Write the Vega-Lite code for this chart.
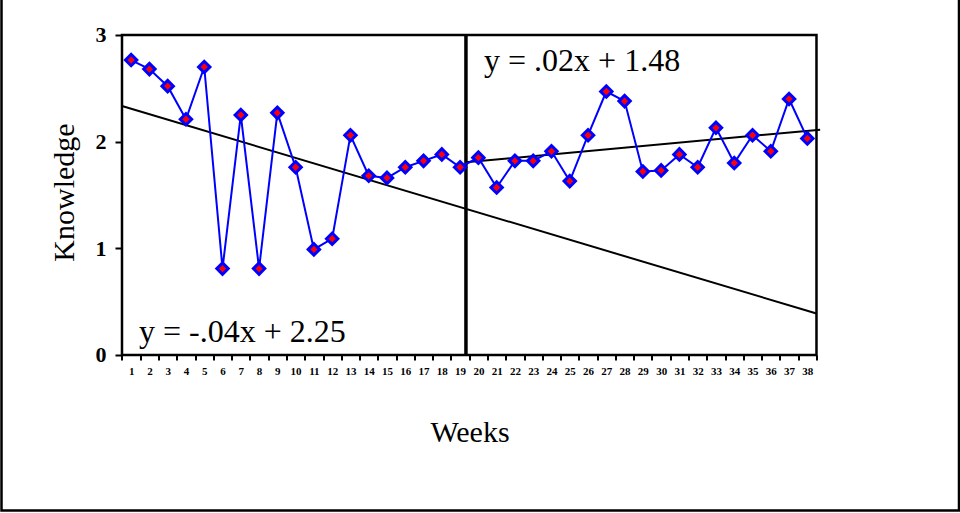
{
  "$schema": "https://vega.github.io/schema/vega-lite/v6.json",
  "autosize": {"type": "none"},
  "padding": {"left": 1.5, "top": -3, "right": 1, "bottom": 2.5},
  "width": 957.5,
  "height": 513.5,
  "background": "white",
  "config": {
    "view": {"stroke": "black", "strokeWidth": 2.5},
    "axis": {"grid": false, "labelFont": "Liberation Serif", "titleFont": "Liberation Serif", "labelColor": "black", "titleColor": "black", "tickColor": "black"}
  },
  "datasets": {
    "weeks": [
      {"week": 1, "knowledge": 2.765}, {"week": 2, "knowledge": 2.68}, {"week": 3, "knowledge": 2.52},
      {"week": 4, "knowledge": 2.21}, {"week": 5, "knowledge": 2.70}, {"week": 6, "knowledge": 0.81},
      {"week": 7, "knowledge": 2.25}, {"week": 8, "knowledge": 0.81}, {"week": 9, "knowledge": 2.27},
      {"week": 10, "knowledge": 1.76}, {"week": 11, "knowledge": 0.99}, {"week": 12, "knowledge": 1.09},
      {"week": 13, "knowledge": 2.06}, {"week": 14, "knowledge": 1.68}, {"week": 15, "knowledge": 1.66},
      {"week": 16, "knowledge": 1.76}, {"week": 17, "knowledge": 1.82}, {"week": 18, "knowledge": 1.88},
      {"week": 19, "knowledge": 1.76}, {"week": 20, "knowledge": 1.85}, {"week": 21, "knowledge": 1.57},
      {"week": 22, "knowledge": 1.82}, {"week": 23, "knowledge": 1.82}, {"week": 24, "knowledge": 1.91},
      {"week": 25, "knowledge": 1.63}, {"week": 26, "knowledge": 2.06}, {"week": 27, "knowledge": 2.47},
      {"week": 28, "knowledge": 2.38}, {"week": 29, "knowledge": 1.72}, {"week": 30, "knowledge": 1.73},
      {"week": 31, "knowledge": 1.88}, {"week": 32, "knowledge": 1.76}, {"week": 33, "knowledge": 2.13},
      {"week": 34, "knowledge": 1.80}, {"week": 35, "knowledge": 2.06}, {"week": 36, "knowledge": 1.91},
      {"week": 37, "knowledge": 2.40}, {"week": 38, "knowledge": 2.03}
    ],
    "trend": [
      {"seg": "A", "week": 0.5, "knowledge": 2.334},
      {"seg": "A", "week": 38.5, "knowledge": 0.389},
      {"seg": "B", "week": 19.32, "knowledge": 1.806},
      {"seg": "B", "week": 38.7, "knowledge": 2.112}
    ]
  },
  "resolve": {"axis": {"x": "independent", "y": "independent"}},
  "layer": [
    {
      "data": {"values": [{}]},
      "mark": {"type": "rect", "fill": null, "stroke": "black", "strokeWidth": 2.5},
      "encoding": {
        "x": {"datum": 0.5, "type": "quantitative", "scale": {"domain": [-6.093, 46.298], "nice": false, "zero": false},
          "axis": {"orient": "bottom", "values": [0.5,1.5,2.5,3.5,4.5,5.5,6.5,7.5,8.5,9.5,10.5,11.5,12.5,13.5,14.5,15.5,16.5,17.5,18.5,19.5,20.5,21.5,22.5,23.5,24.5,25.5,26.5,27.5,28.5,29.5,30.5,31.5,32.5,33.5,34.5,35.5,36.5,37.5,38.5],
            "labels": false, "domain": false, "tickSize": 5, "tickWidth": 2, "offset": -155.5, "title": null}},
        "x2": {"datum": 38.5},
        "y": {"datum": 0, "type": "quantitative", "scale": {"domain": [-1.458, 3.356], "nice": false, "zero": false},
          "axis": {"orient": "left", "values": [0, 1, 2, 3], "format": "d", "domain": false, "tickSize": 7, "tickWidth": 2, "offset": -120.5,
            "labelFont": "Liberation Serif", "labelFontSize": 22, "labelFontWeight": "bold", "labelPadding": 9, "labelFlush": false, "labelOverlap": false,
            "title": "Knowledge", "titleFontSize": 30, "titleFontWeight": "normal", "titleX": -49, "titleY": 195, "titleAlign": "center", "titleBaseline": "alphabetic", "titleAngle": 270}},
        "y2": {"datum": 3}
      }
    },
    {
      "data": {"values": [{}]},
      "mark": {"type": "rule", "color": "black", "strokeWidth": 3.5},
      "encoding": {
        "x": {"datum": 19.32, "type": "quantitative", "scale": {"domain": [-6.093, 46.298], "nice": false, "zero": false}, "axis": null},
        "y": {"datum": 0, "type": "quantitative", "scale": {"domain": [-1.458, 3.356], "nice": false, "zero": false}, "axis": null},
        "y2": {"datum": 3}
      }
    },
    {
      "data": {"name": "trend"},
      "mark": {"type": "line", "color": "black", "strokeWidth": 2},
      "encoding": {
        "x": {"field": "week", "type": "quantitative", "scale": {"domain": [-6.093, 46.298], "nice": false, "zero": false}, "axis": null},
        "y": {"field": "knowledge", "type": "quantitative", "scale": {"domain": [-1.458, 3.356], "nice": false, "zero": false}, "axis": null},
        "detail": {"field": "seg"}
      }
    },
    {
      "data": {"name": "weeks"},
      "mark": {"type": "line", "color": "#0000FF", "strokeWidth": 2},
      "encoding": {
        "x": {"field": "week", "type": "quantitative", "scale": {"domain": [-6.093, 46.298], "nice": false, "zero": false},
          "axis": {"orient": "bottom", "values": [1,2,3,4,5,6,7,8,9,10,11,12,13,14,15,16,17,18,19,20,21,22,23,24,25,26,27,28,29,30,31,32,33,34,35,36,37,38],
            "format": "d", "ticks": false, "tickSize": 0, "domain": false, "offset": -155.5, "labelPadding": 10,
            "labelFont": "Liberation Serif", "labelFontSize": 11, "labelFontWeight": "bold", "labelFlush": false, "labelOverlap": false, "labelBound": false,
            "title": "Weeks", "titleFont": "Liberation Serif", "titleFontSize": 30, "titleFontWeight": "normal", "titleX": 468, "titleY": 86.7, "titleAlign": "center", "titleBaseline": "alphabetic"}},
        "y": {"field": "knowledge", "type": "quantitative", "scale": {"domain": [-1.458, 3.356], "nice": false, "zero": false}, "axis": null}
      }
    },
    {
      "data": {"name": "weeks"},
      "mark": {"type": "point", "shape": "diamond", "filled": true, "fill": "#FF0000", "stroke": "#0000FF", "strokeWidth": 3, "size": 130, "opacity": 1},
      "encoding": {
        "x": {"field": "week", "type": "quantitative", "scale": {"domain": [-6.093, 46.298], "nice": false, "zero": false}, "axis": null},
        "y": {"field": "knowledge", "type": "quantitative", "scale": {"domain": [-1.458, 3.356], "nice": false, "zero": false}, "axis": null}
      }
    },
    {
      "data": {"values": [{"label": "y = .02x + 1.48"}]},
      "mark": {"type": "text", "align": "left", "baseline": "alphabetic", "font": "Liberation Serif", "fontSize": 32, "color": "black"},
      "encoding": {
        "x": {"datum": 20.31, "type": "quantitative", "scale": {"domain": [-6.093, 46.298], "nice": false, "zero": false}, "axis": null},
        "y": {"datum": 2.662, "type": "quantitative", "scale": {"domain": [-1.458, 3.356], "nice": false, "zero": false}, "axis": null},
        "text": {"field": "label"}
      }
    },
    {
      "data": {"values": [{"label": "y = -.04x + 2.25"}]},
      "mark": {"type": "text", "align": "left", "baseline": "alphabetic", "font": "Liberation Serif", "fontSize": 32, "color": "black"},
      "encoding": {
        "x": {"datum": 1.43, "type": "quantitative", "scale": {"domain": [-6.093, 46.298], "nice": false, "zero": false}, "axis": null},
        "y": {"datum": 0.117, "type": "quantitative", "scale": {"domain": [-1.458, 3.356], "nice": false, "zero": false}, "axis": null},
        "text": {"field": "label"}
      }
    }
  ]
}
